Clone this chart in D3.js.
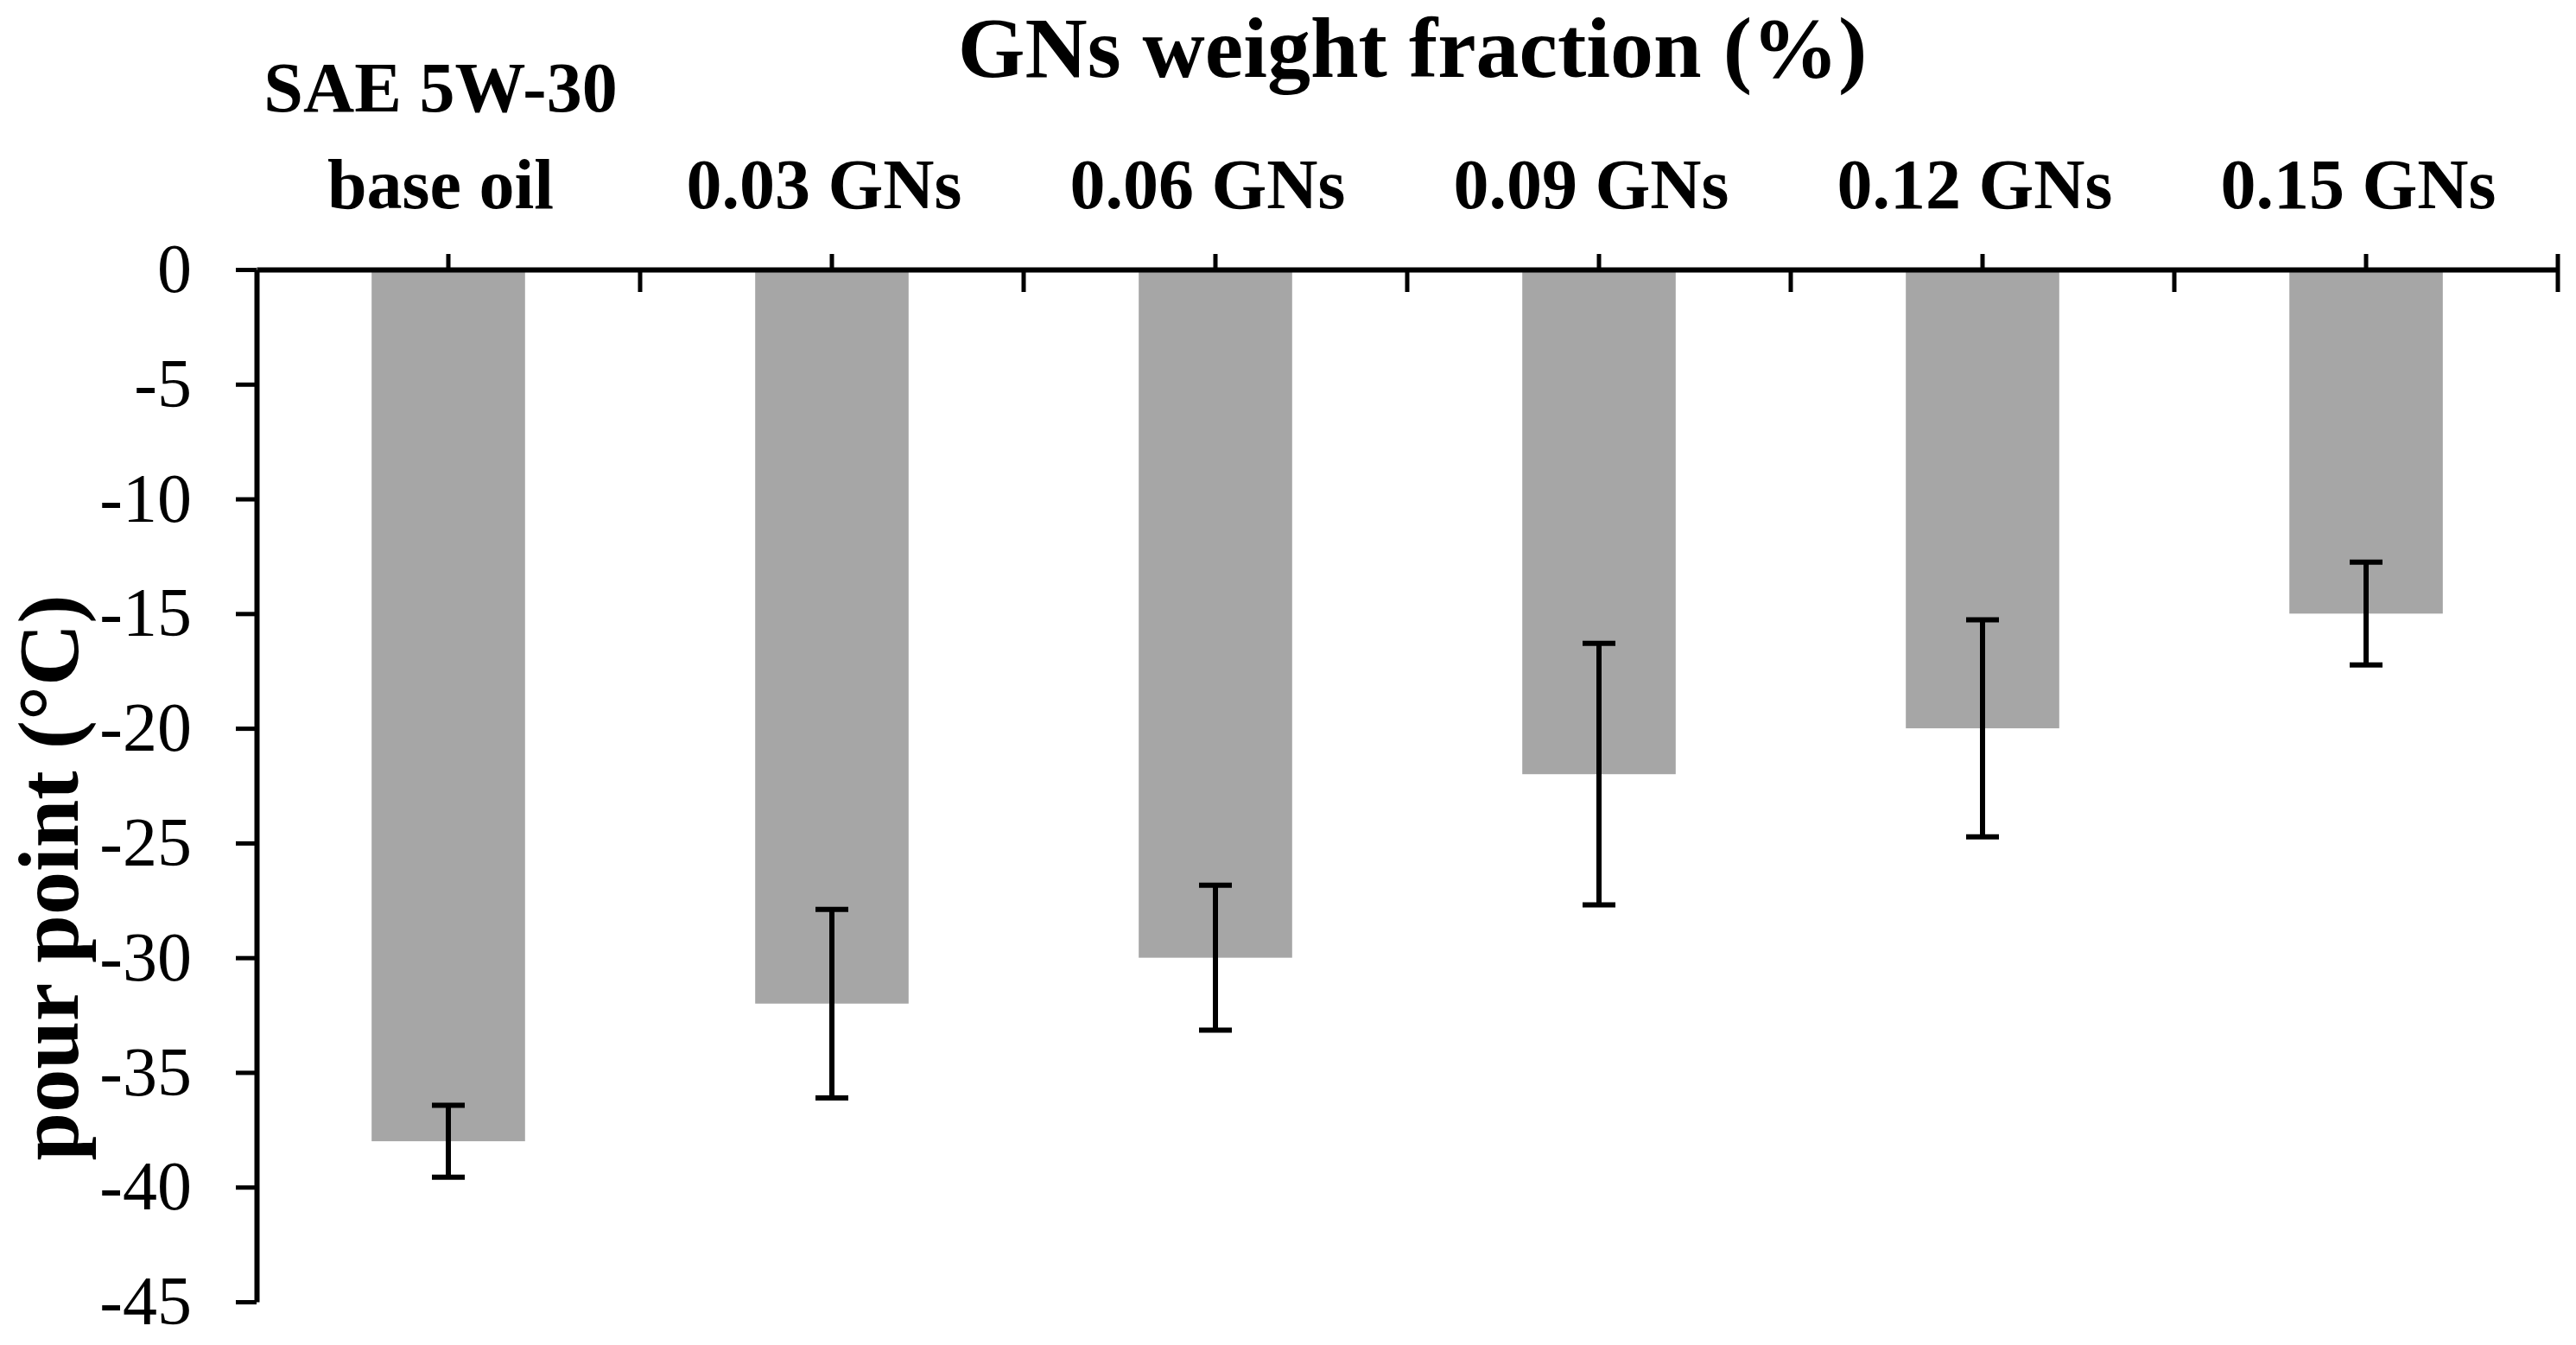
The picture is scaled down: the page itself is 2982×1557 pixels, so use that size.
<!DOCTYPE html>
<html>
<head>
<meta charset="utf-8">
<script src="https://cdn.jsdelivr.net/npm/d3@7"></script>
<style>
  body { margin: 0; background: #fff; }
  text { font-family: "Liberation Serif", "Times New Roman", serif; fill: #000; }
</style>
</head>
<body>
<div id="bar"></div>
<script>
// data
var categories = ["SAE 5W-30\nbase oil", "0.03 GNs", "0.06 GNs", "0.09 GNs", "0.12 GNs", "0.15 GNs"];
var pourPoint = [-38, -32, -30, -22, -20, -15];
var errors = [1.57, 4.11, 3.16, 5.7, 4.73, 2.24];
var yTicks = [0, -5, -10, -15, -20, -25, -30, -35, -40, -45];

// size of the page and the plot area
var W = 2982, H = 1557;
var plot = {left: 297, right: 2961, top: 312, bottom: 1507};

var svg = d3.select("#bar")
  .append("svg")
    .attr("width", W)
    .attr("height", H);

// scales
var x = d3.scaleBand()
  .domain(categories)
  .range([plot.left, plot.right])
  .paddingInner(0.6)
  .paddingOuter(0.3);

var y = d3.scaleLinear()
  .domain([-45, 0])
  .range([plot.bottom, plot.top]);

var data = categories.map(function(c, i) {
  return {cat: c, value: pourPoint[i], err: errors[i]};
});

// bars hang down from zero
svg.selectAll(".bar")
  .data(data)
  .enter().append("rect")
    .attr("class", "bar")
    .attr("x", function(d) { return x(d.cat); })
    .attr("y", y(0))
    .attr("width", x.bandwidth())
    .attr("height", function(d) { return y(d.value) - y(0); })
    .attr("fill", "#a6a6a6");

// error bars
var capW = 38;
var eb = svg.selectAll(".err")
  .data(data)
  .enter().append("g")
    .attr("class", "err")
    .attr("transform", function(d) { return "translate(" + (x(d.cat) + x.bandwidth() / 2) + ",0)"; });

eb.append("line")
  .attr("y1", function(d) { return y(d.value + d.err); })
  .attr("y2", function(d) { return y(d.value - d.err); });
eb.append("line")
  .attr("x1", -capW / 2).attr("x2", capW / 2)
  .attr("y1", function(d) { return y(d.value + d.err); })
  .attr("y2", function(d) { return y(d.value + d.err); });
eb.append("line")
  .attr("x1", -capW / 2).attr("x2", capW / 2)
  .attr("y1", function(d) { return y(d.value - d.err); })
  .attr("y2", function(d) { return y(d.value - d.err); });
eb.selectAll("line")
  .attr("stroke", "#000")
  .attr("stroke-width", 6);

// Y axis (plain hyphen for the minus sign, like the original)
var yAxis = svg.append("g")
  .attr("transform", "translate(" + plot.left + ",0)")
  .call(d3.axisLeft(y)
    .tickValues(yTicks)
    .tickSize(24)
    .tickSizeOuter(0)
    .tickPadding(51)
    .tickFormat(function(d) { return String(d); })
  );
yAxis.selectAll("text")
  .style("font-size", "80px");

// X axis sits on the zero line, labels above it
var xAxis = svg.append("g")
  .attr("transform", "translate(0," + y(0) + ")")
  .call(d3.axisTop(x)
    .tickSize(18)
    .tickSizeOuter(0)
    .tickPadding(53)
  );
xAxis.selectAll("text")
  .style("font-size", "82px")
  .style("font-weight", "bold")
  .each(function(d) {
    var lines = d.split("\n");
    var t = d3.select(this).text(null);
    lines.forEach(function(l, i) {
      t.append("tspan")
        .attr("x", -9)
        .attr("y", -71 - (lines.length - 1 - i) * 112)
        .text(l);
    });
  });

// category boundary ticks point down into the plot
var bounds = categories.map(function(c) { return x(c) + x.bandwidth() / 2 + x.step() / 2; });
svg.append("g")
  .selectAll("line")
  .data(bounds)
  .enter().append("line")
    .attr("x1", function(d) { return d; })
    .attr("x2", function(d) { return d; })
    .attr("y1", function(d, i) { return i == bounds.length - 1 ? y(0) - 18 : y(0); })
    .attr("y2", y(0) + 26)
    .attr("stroke", "#000")
    .attr("stroke-width", 5);

// axis line styling
svg.selectAll(".domain")
  .attr("stroke", "#000")
  .attr("stroke-width", 6);
svg.selectAll(".tick line")
  .attr("stroke", "#000")
  .attr("stroke-width", 5);

// titles
svg.append("text")
  .attr("x", (plot.left + plot.right) / 2 + 6)
  .attr("y", 89)
  .attr("text-anchor", "middle")
  .style("font-size", "100px")
  .style("font-weight", "bold")
  .text("GNs weight fraction (%)");

svg.append("text")
  .attr("transform", "rotate(-90)")
  .attr("x", -1016)
  .attr("y", 90)
  .attr("text-anchor", "middle")
  .style("font-size", "100px")
  .style("font-weight", "bold")
  .text("pour point (°C)");
</script>
</body>
</html>
